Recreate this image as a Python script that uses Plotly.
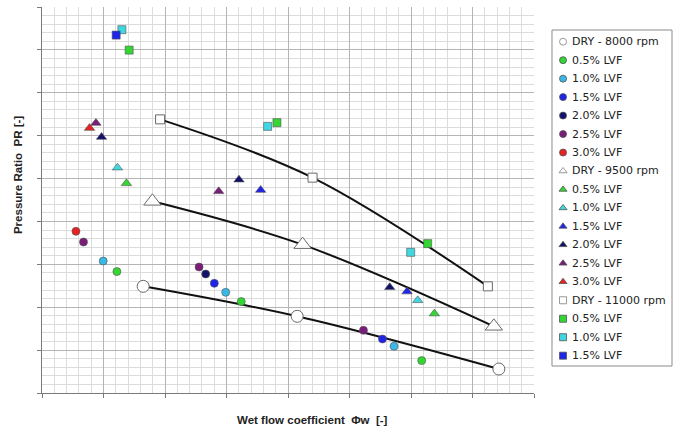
import plotly.graph_objects as go

# ---------------- data (arbitrary units; axes carry no tick labels) ----------------
# DRY reference curves
dry8000_x = [1.645, 4.149, 7.429]
dry8000_y = [2.487, 1.788, 0.559]
dry9500_x = [1.795, 4.237, 7.347]
dry9500_y = [4.469, 3.459, 1.555]
dry11000_x = [1.920, 4.399, 7.250]
dry11000_y = [6.380, 5.021, 2.487]

# 8000 rpm wet points (circles)
c8000_05_x = [1.218, 3.240, 6.174]; c8000_05_y = [2.830, 2.131, 0.755]
c8000_10_x = [0.995, 2.987, 5.724]; c8000_10_y = [3.077, 2.347, 1.089]
c8000_15_x = [2.802, 5.536];        c8000_15_y = [2.557, 1.259]
c8000_20_x = [2.662];               c8000_20_y = [2.774]
c8000_25_x = [0.675, 2.554, 5.227]; c8000_25_y = [3.520, 2.937, 1.462]
c8000_30_x = [0.552];               c8000_30_y = [3.769]

# 9500 rpm wet points (triangles)
t9500_05_x = [1.373, 6.380];        t9500_05_y = [4.888, 1.851]
t9500_10_x = [1.227, 6.109];        t9500_10_y = [5.254, 2.161]
t9500_15_x = [3.555, 5.935];        t9500_15_y = [4.732, 2.364]
t9500_20_x = [0.968, 3.203, 5.654]; t9500_20_y = [5.967, 4.974, 2.464]
t9500_25_x = [0.877, 2.873];        t9500_25_y = [6.294, 4.702]
t9500_30_x = [0.773];               t9500_30_y = [6.177]

# 11000 rpm wet points (squares)
s11000_05_x = [1.417, 3.820, 6.271]; s11000_05_y = [7.995, 6.303, 3.483]
s11000_10_x = [1.299, 3.669, 5.995]; s11000_10_y = [8.471, 6.217, 3.280]
s11000_15_x = [1.206];               s11000_15_y = [8.345]

lvf_labels = ["0.5% LVF", "1.0% LVF", "1.5% LVF", "2.0% LVF", "2.5% LVF", "3.0% LVF"]
dry_labels = ["DRY - 8000 rpm", "DRY - 9500 rpm", "DRY - 11000 rpm"]

# ---------------- styles ----------------
GREEN = "#33d633"
SKY = "#3ab8e6"
CYAN = "#3fd8e2"
BLUE = "#1f24e8"
NAVY = "#12126e"
PURPLE = "#7a1c7a"
RED = "#e62222"
OUT = "#505050"

circle_cols = [GREEN, SKY, BLUE, NAVY, PURPLE, RED]
tri_cols = [GREEN, CYAN, BLUE, NAVY, PURPLE, RED]
sq_cols = [GREEN, CYAN, BLUE]

fig = go.Figure()

# DRY smoothed lines
for xs, ys in [(dry8000_x, dry8000_y), (dry9500_x, dry9500_y), (dry11000_x, dry11000_y)]:
    fig.add_trace(go.Scatter(x=xs, y=ys, mode="lines", showlegend=False, hoverinfo="skip",
                             line=dict(color="#111111", width=2, shape="spline", smoothing=1)))
# DRY open markers
for xs, ys, sym, size in [(dry8000_x, dry8000_y, "circle", 12),
                          (dry9500_x, dry9500_y, "triangle-up", 15),
                          (dry11000_x, dry11000_y, "square", 9)]:
    fig.add_trace(go.Scatter(x=xs, y=ys, mode="markers", showlegend=False,
                             marker=dict(symbol=sym, size=size, color="white",
                                         line=dict(color="#6a6a6a", width=1))))

circle_sets = [(c8000_05_x, c8000_05_y), (c8000_10_x, c8000_10_y), (c8000_15_x, c8000_15_y),
               (c8000_20_x, c8000_20_y), (c8000_25_x, c8000_25_y), (c8000_30_x, c8000_30_y)]
tri_sets = [(t9500_05_x, t9500_05_y), (t9500_10_x, t9500_10_y), (t9500_15_x, t9500_15_y),
            (t9500_20_x, t9500_20_y), (t9500_25_x, t9500_25_y), (t9500_30_x, t9500_30_y)]
sq_sets = [(s11000_05_x, s11000_05_y), (s11000_10_x, s11000_10_y), (s11000_15_x, s11000_15_y)]

for (xs, ys), col in zip(circle_sets, circle_cols):
    fig.add_trace(go.Scatter(x=xs, y=ys, mode="markers", showlegend=False,
                             marker=dict(symbol="circle", size=8, color=col, line=dict(color=OUT, width=0.6))))
for (xs, ys), col in zip(tri_sets, tri_cols):
    fig.add_trace(go.Scatter(x=xs, y=ys, mode="markers", showlegend=False,
                             marker=dict(symbol="triangle-up", size=9, color=col, line=dict(color=OUT, width=0.6))))
for (xs, ys), col in zip(sq_sets, sq_cols):
    fig.add_trace(go.Scatter(x=xs, y=ys, mode="markers", showlegend=False,
                             marker=dict(symbol="square", size=8, color=col, line=dict(color=OUT, width=0.6))))

# ---------------- legend (own small axes on the right) ----------------
leg_names = [dry_labels[0]] + lvf_labels + [dry_labels[1]] + lvf_labels + [dry_labels[2]] + lvf_labels[:3]
leg_syms = ["circle"] * 7 + ["triangle-up"] * 7 + ["square"] * 4
leg_cols = ["white"] + circle_cols + ["white"] + tri_cols + ["white"] + sq_cols
leg_lines = ["#808080" if c == "white" else OUT for c in leg_cols]
leg_rows = list(range(len(leg_names)))

fig.add_trace(go.Scatter(x=[0] * len(leg_rows), y=leg_rows, xaxis="x2", yaxis="y2",
                         mode="markers", showlegend=False, hoverinfo="skip",
                         marker=dict(symbol=leg_syms, size=7, color=leg_cols,
                                     line=dict(color=leg_lines, width=0.8))))

annotations = []
for r, name in zip(leg_rows, leg_names):
    annotations.append(dict(text=name, xref="x2", yref="y2", x=0.55, y=r, xanchor="left",
                            yanchor="middle", showarrow=False,
                            font=dict(family="DejaVu Sans", size=11, color="#222222")))

annotations += [
    dict(text="<b>Wet flow coefficient  \u03a6w  [-]</b>", xref="paper", yref="paper",
         x=0.4286, y=-0.070, xanchor="center", yanchor="middle", showarrow=False,
         font=dict(family="Liberation Sans", size=11.5, color="#222222")),
    dict(text="<b>Pressure Ratio  PR [-]</b>", xref="paper", yref="paper",
         x=-0.038, y=0.5648, xanchor="center", yanchor="middle", textangle=-90, showarrow=False,
         font=dict(family="Liberation Sans", size=11.5, color="#222222")),
]

axis_common = dict(showticklabels=False, showgrid=True, gridcolor="#b4b4b4", gridwidth=1,
                   zeroline=False, showline=True, linecolor="#7a7a7a", linewidth=1,
                   ticks="outside", ticklen=4, tickcolor="#7a7a7a", tick0=0, dtick=1,
                   minor=dict(dtick=0.2, showgrid=True, gridcolor="#dcdcdc", gridwidth=1, ticks=""))

hidden = dict(visible=False, showgrid=False, zeroline=False, fixedrange=True)

fig.update_layout(
    width=675, height=427,
    margin=dict(l=42, r=3, t=7, b=34),
    paper_bgcolor="white", plot_bgcolor="white",
    font=dict(family="DejaVu Sans", size=11, color="#222222"),
    showlegend=False,
    hovermode=False,
    xaxis=dict(range=[0, 8], domain=[0, 0.78095], **axis_common),
    yaxis=dict(range=[0, 9], domain=[0, 1], **axis_common),
    xaxis2=dict(range=[-0.92, 9.08], domain=[0.80952, 1.0], anchor="y2", **hidden),
    yaxis2=dict(range=[17.56, -0.633], domain=[0.0699, 0.9404], anchor="x2", **hidden),
    shapes=[dict(type="rect", xref="x2 domain", yref="y2 domain", x0=0, x1=1, y0=0, y1=1,
                 line=dict(color="#8a8a8a", width=1), fillcolor="rgba(0,0,0,0)", layer="below")],
    annotations=annotations,
)

fig.write_html("out.html", config={"displayModeBar": False, "staticPlot": True},
               post_script="document.body.style.margin='0px';document.body.style.overflow='hidden';")
